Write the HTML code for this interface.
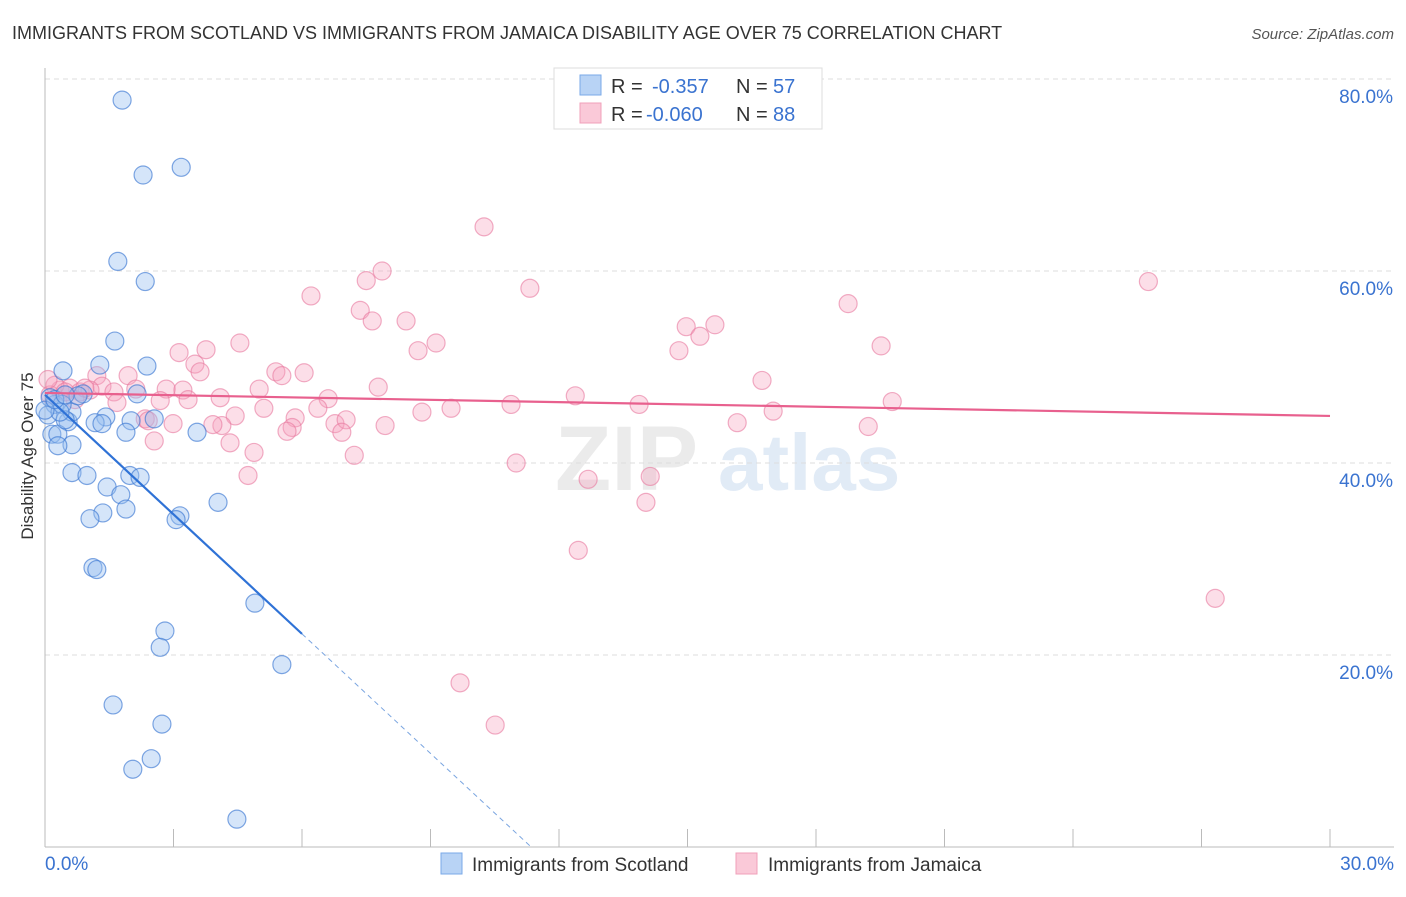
<!DOCTYPE html>
<html><head><meta charset="utf-8"><style>
body{margin:0;background:#fff;font-family:"Liberation Sans",sans-serif}
svg text{font-family:"Liberation Sans",sans-serif}
</style></head><body>
<svg id="chart" width="1406" height="892" xmlns="http://www.w3.org/2000/svg">
<text x="12" y="39" font-size="18" fill="#333">IMMIGRANTS FROM SCOTLAND VS IMMIGRANTS FROM JAMAICA DISABILITY AGE OVER 75 CORRELATION CHART</text>
<text x="1394" y="39" font-size="15" fill="#555" text-anchor="end" font-style="italic">Source: ZipAtlas.com</text>
<text transform="translate(33,456) rotate(-90)" font-size="17" fill="#333" text-anchor="middle">Disability Age Over 75</text>
<g opacity="0.5">
<text x="555" y="490" font-size="92" font-family="Liberation Serif" fill="#d8d8d8" font-weight="bold">ZIP</text>
<text x="718" y="490" font-size="80" fill="#c5d8ef" font-weight="bold">atlas</text>
</g>
<g id="grid"></g>
<g id="axes"></g>
<g id="pink"></g>
<g id="blue"></g>
<g id="trend"></g>
<g>
<rect x="554" y="68" width="268" height="61" fill="#fff" stroke="#ddd"/>
<rect x="580" y="75" width="21" height="20" fill="#b8d3f5" stroke="#7aa9e8"/>
<rect x="580" y="103" width="21" height="20" fill="#fac9d8" stroke="#f0a0ba"/>
<text x="611" y="93" font-size="20" fill="#333">R = </text><text x="652" y="93" font-size="20" fill="#3a73d0">-0.357</text>
<text x="736" y="93" font-size="20" fill="#333">N = </text><text x="773" y="93" font-size="20" fill="#3a73d0">57</text>
<text x="611" y="121" font-size="20" fill="#333">R = </text><text x="646" y="121" font-size="20" fill="#3a73d0">-0.060</text>
<text x="736" y="121" font-size="20" fill="#333">N = </text><text x="773" y="121" font-size="20" fill="#3a73d0">88</text>
</g>
<g>
<g><rect x="441" y="853" width="21" height="21" fill="#b8d3f5" stroke="#7aa9e8"/><text x="472" y="871" font-size="19" fill="#333">Immigrants from Scotland</text></g>
<g><rect x="736" y="853" width="21" height="21" fill="#fac9d8" stroke="#f0a0ba"/><text x="768" y="871" font-size="19" fill="#333">Immigrants from Jamaica</text></g>
</g>
</svg>
<script>
const blueX=[1.80,2.29,3.18,1.70,2.34,1.63,2.38,1.28,0.42,2.15,0.89,1.42,2.01,2.55,1.17,1.33,0.54,0.16,0.30,0.63,0.30,1.89,3.55,0.23,0.63,0.07,0.12,0.63,0.98,1.45,1.98,2.22,1.77,4.04,1.35,1.05,1.89,3.15,3.06,1.12,1.21,4.90,2.80,2.69,5.53,1.59,2.73,2.48,2.05,4.48,0.40,0.47,0.77,0.35,0.0,0.23,0.47];
const blueY=[77.8,70.0,70.8,61.0,58.9,52.7,50.1,50.2,49.6,47.2,47.2,44.8,44.4,44.6,44.2,44.1,44.3,43.0,43.0,41.9,41.8,43.2,43.2,46.1,45.3,45.0,46.8,39.0,38.7,37.5,38.7,38.5,36.7,35.9,34.8,34.2,35.2,34.5,34.1,29.1,28.9,25.4,22.5,20.8,19.0,14.8,12.8,9.2,8.1,2.9,46.1,44.5,47.0,45.3,45.5,46.6,47.1];
const pinkX=[10.25,7.87,7.50,11.32,6.21,25.76,18.75,7.36,7.64,8.43,14.97,15.64,15.29,9.13,8.71,4.55,19.52,3.13,3.76,14.80,3.50,3.62,5.39,6.05,5.53,6.61,16.74,7.78,1.94,1.21,1.33,2.83,3.22,5.00,1.61,2.12,12.38,4.09,3.34,2.69,19.78,1.68,13.87,10.88,9.48,8.80,6.37,5.11,5.84,4.44,17.00,2.34,2.41,2.99,16.16,19.22,6.77,7.03,7.94,5.77,5.65,6.93,4.13,3.92,2.55,4.32,4.88,7.22,11.00,4.74,14.13,12.68,14.03,12.45,27.32,9.69,10.51,0.35,0.58,0.82,1.05,0.12,0.23,0.70,0.93,0.47,0.07];
const pinkY=[64.6,60.0,59.0,58.2,57.4,58.9,56.6,55.9,54.8,54.8,54.2,54.4,53.2,52.5,51.7,52.5,52.2,51.5,51.8,51.7,50.3,49.5,49.5,49.4,49.1,46.7,48.6,47.9,49.1,49.1,48.0,47.7,47.6,47.7,47.4,47.7,47.0,46.8,46.6,46.5,46.4,46.3,46.1,46.1,45.7,45.3,45.7,45.7,44.7,44.9,45.4,44.6,44.4,44.1,44.2,43.8,44.1,44.5,43.9,43.7,43.3,43.2,43.9,44.0,42.3,42.1,41.1,40.8,40.0,38.7,38.6,38.3,35.9,30.9,25.9,17.1,12.7,47.6,47.8,47.4,47.6,47.1,48.1,46.6,47.8,47.4,48.7];
const yTicks=[20,40,60,80];
const yTickLabels=["20.0%","40.0%","60.0%","80.0%"];
const blueTrend=[47.1,-4.15];
const pinkTrend=[47.3,-0.08];
const NS="http://www.w3.org/2000/svg";
const sx=v=>45+v*(1285/30), sy=v=>847-v*9.6;
function mk(tag,attrs,parent){const e=document.createElementNS(NS,tag);for(const k in attrs)e.setAttribute(k,attrs[k]);document.getElementById(parent).appendChild(e);return e;}
yTicks.forEach((t,i)=>{
 const g=mk('line',{x1:45,x2:1394,y1:sy(t),y2:sy(t),stroke:'#ddd','stroke-dasharray':'5,4'},'grid');
 
 
 const l=mk('text',{x:1393,y:sy(t)+24,'font-size':19,fill:'#3a73d0','text-anchor':'end'},'axes');
 l.textContent=yTickLabels[i];
 
 
});
const ax=mk('line',{x1:45,x2:45,y1:68,y2:847,stroke:'#bbb'},'axes');


const bx=mk('line',{x1:45,x2:1394,y1:847,y2:847,stroke:'#bbb'},'axes');


for(let i=0;i<=10;i++){const t=mk('line',{x1:sx(i*3),x2:sx(i*3),y1:829,y2:847,stroke:'#bbb'},'axes');
 
 }
const xl0=mk('text',{x:45,y:870,'font-size':19,fill:'#3a73d0'},'axes');xl0.textContent='0.0%';


const xl1=mk('text',{x:1394,y:870,'font-size':19,fill:'#3a73d0','text-anchor':'end'},'axes');xl1.textContent='30.0%';


pinkX.forEach((x,i)=>{const c=mk('circle',{cx:sx(x),cy:sy(pinkY[i]),r:9,fill:'rgba(245,160,188,0.35)',stroke:'rgba(232,120,158,0.6)','stroke-width':1.2},'pink');
 
 });
blueX.forEach((x,i)=>{const c=mk('circle',{cx:sx(x),cy:sy(blueY[i]),r:9,fill:'rgba(150,190,240,0.4)',stroke:'rgba(60,120,210,0.65)','stroke-width':1.2},'blue');
 
 });
const pt=mk('line',{x1:sx(0),y1:sy(pinkTrend[0]),x2:sx(30),y2:sy(pinkTrend[0]+pinkTrend[1]*30),stroke:'#e8608e','stroke-width':2.2},'trend');


const bt=mk('line',{x1:sx(0),y1:sy(blueTrend[0]),x2:sx(6),y2:sy(blueTrend[0]+blueTrend[1]*6),stroke:'#2f72d6','stroke-width':2.2},'trend');


const xEnd=-blueTrend[0]/blueTrend[1];
const bd=mk('line',{x1:sx(6),y1:sy(blueTrend[0]+blueTrend[1]*6),x2:sx(xEnd),y2:sy(0),stroke:'#7aa5e0','stroke-width':1,'stroke-dasharray':'5,4'},'trend');


</script>
</body></html>
